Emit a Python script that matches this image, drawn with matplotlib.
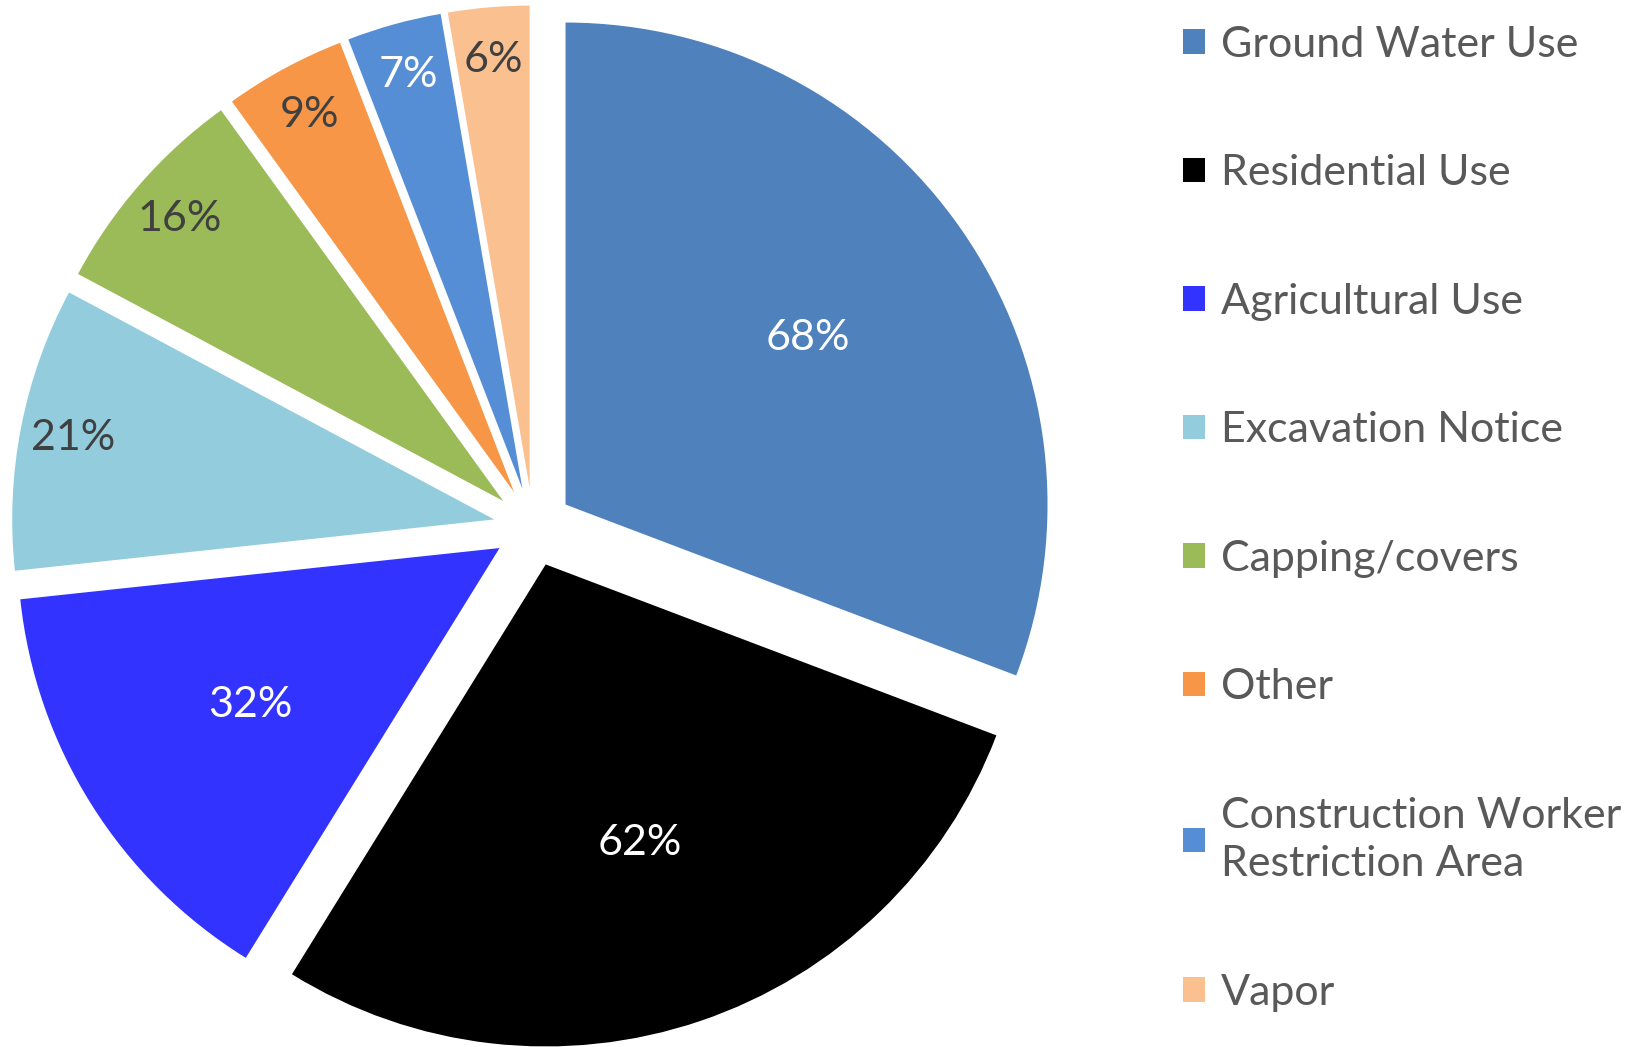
import matplotlib

matplotlib.use("Agg")
import matplotlib.pyplot as plt
import numpy as np
from matplotlib.patches import Patch

CATEGORIES = [
    "Ground Water Use",
    "Residential Use",
    "Agricultural Use",
    "Excavation Notice",
    "Capping/covers",
    "Other",
    "Construction Worker\nRestriction Area",
    "Vapor",
]
VALUES = [68, 62, 32, 21, 16, 9, 7, 6]

COLORS = ["#4F81BD", "#000000", "#3333FF", "#93CDDD", "#9BBB59", "#F79646", "#558ED5", "#FAC090"]
LABEL_COLORS = ["white", "white", "white", "#404040", "#404040", "#404040", "white", "#404040"]

plt.rcParams["font.family"] = ["Lato", "DejaVu Sans"]

W, H = 1637, 1047
fig = plt.figure(figsize=(W / 100, H / 100), dpi=100)

# pie placement in pixels: centre and radius
cx, cy, rad = 533, 527, 482
lim = 1.09
half = lim * rad
ax = fig.add_axes([(cx - half) / W, (H - cy - half) / H, 2 * half / W, 2 * half / H])

total = sum(VALUES)
wedges, _, autotexts = ax.pie(
    VALUES,
    colors=COLORS,
    startangle=90,
    counterclock=False,
    explode=[0.082] * len(VALUES),
    autopct=lambda p: f"{p * total / 100:.0f}%",
    wedgeprops={"linewidth": 0},
    textprops={"fontsize": 31},
)

# Excel puts the labels of big slices near the middle, small ones near the rim
for w, t, c in zip(wedges, autotexts, LABEL_COLORS):
    mid = np.deg2rad((w.theta1 + w.theta2) / 2)
    frac = 0.61 if (w.theta2 - w.theta1) > 45 else 0.89
    t.set_position((w.center[0] + frac * w.r * np.cos(mid), w.center[1] + frac * w.r * np.sin(mid)))
    t.set_color(c)

ax.set_xlim(-lim, lim)
ax.set_ylim(-lim, lim)

handles = [Patch(facecolor=c, edgecolor="none") for c in COLORS]
leg = fig.legend(
    handles,
    CATEGORIES,
    loc="upper left",
    bbox_to_anchor=(1183 / W, 1 - 26 / H),
    frameon=False,
    fontsize=31,
    handlelength=0.5,
    handleheight=0.5,
    handletextpad=0.38,
    labelspacing=2.1,
    borderpad=0,
    borderaxespad=0,
)
for txt in leg.get_texts():
    txt.set_color("#595959")
    txt.set_linespacing(1.35)

fig.savefig("out.png", dpi=100)
